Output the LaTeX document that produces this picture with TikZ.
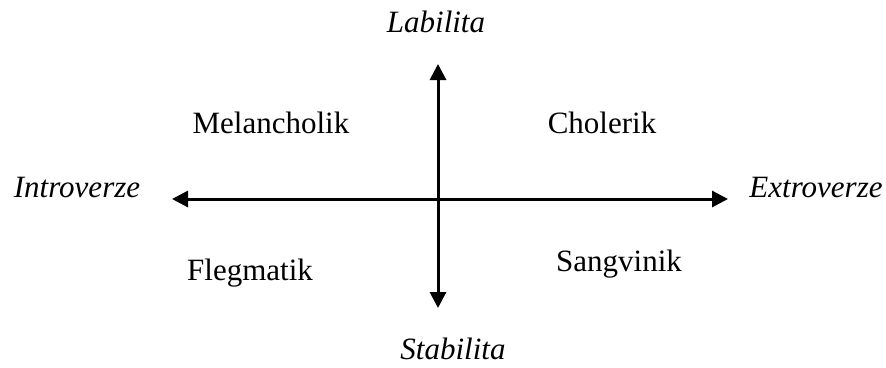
\documentclass[tikz,border=0pt]{standalone}
\usepackage{fontspec}
\setmainfont{Liberation Serif}
\usetikzlibrary{arrows.meta}

\tikzset{
  osa/.style={line width=3pt, {Triangle[length=16pt, width=16pt]}-{Triangle[length=16pt, width=16pt]}},
  typ/.style={anchor=base, font=\fontsize{31}{36}\selectfont},
  pol/.style={anchor=base, font=\fontsize{31}{36}\selectfont\itshape}
}

\begin{document}
\begin{tikzpicture}[x=1pt, y=-1pt]
  % === 画布大小 ===
  \useasboundingbox (0,0) rectangle (886,367);

  % === 两条轴的端点 ===
  \coordinate (levy) at (172,199);
  \coordinate (pravy) at (728,199);
  \coordinate (horni) at (438,64);
  \coordinate (dolni) at (438,308);

  % === 轴（双向箭头）===
  \draw[osa] (levy) -- (pravy);
  \draw[osa] (horni) -- (dolni);

  % === 轴端文字（斜体）===
  \node[pol] (labilita) at (436,32) {Labilita};
  \node[pol] (stabilita) at (453,359) {Stabilita};
  \node[pol] (introverze) at (77,197) {Introverze};
  \node[pol] (extroverze) at (816,197) {Extroverze};

  % === 四个象限的类型 ===
  \node[typ] (melancholik) at (271,133) {Melancholik};
  \node[typ] (cholerik) at (602,133) {Cholerik};
  \node[typ] (flegmatik) at (250,280) {Flegmatik};
  \node[typ] (sangvinik) at (619,271) {Sangvinik};
\end{tikzpicture}
\end{document}
